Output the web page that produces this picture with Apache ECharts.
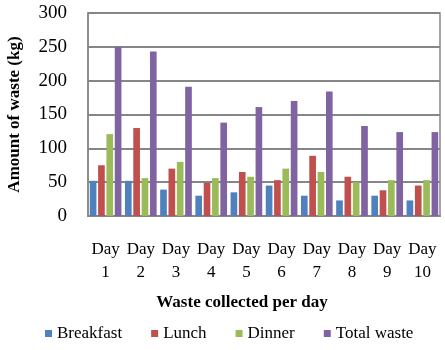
<!DOCTYPE html>
<html>
<head>
<meta charset="utf-8">
<script src="https://cdn.jsdelivr.net/npm/echarts@6/dist/echarts.min.js"></script>
<style>
  html, body { margin: 0; padding: 0; background: #fff; }
  #chart { width: 445px; height: 350px; }
</style>
</head>
<body>
<div id="chart"></div>
<script>
const days = ['Day\n1', 'Day\n2', 'Day\n3', 'Day\n4', 'Day\n5', 'Day\n6', 'Day\n7', 'Day\n8', 'Day\n9', 'Day\n10'];
const breakfast = [52, 52, 39, 30, 35, 45, 30, 23, 30, 23];
const lunch = [75, 130, 70, 49, 65, 53, 89, 58, 38, 45];
const dinner = [121, 56, 80, 56, 58, 70, 65, 50, 53, 53];
const totalWaste = [250, 243, 191, 138, 161, 170, 184, 133, 124, 124];

const serif = '"Liberation Serif", "Times New Roman", serif';
const gridGray = '#868686';

const chart = echarts.init(document.getElementById('chart'));

function bar(name, data, color) {
  return {
    name,
    type: 'bar',
    data,
    barGap: '25%',
    barCategoryGap: '10%',
    itemStyle: { color }
  };
}

chart.setOption({
  animation: false,
  textStyle: { fontFamily: serif, color: '#000' },
  grid: {
    left: 88, right: 5, top: 13, bottom: 134,
    outerBoundsMode: 'none', containLabel: false,
    show: true, borderColor: gridGray, borderWidth: 1.5
  },
  legend: {
    bottom: 3,
    left: 40,
    icon: 'rect',
    itemWidth: 7,
    itemHeight: 7,
    itemGap: 29,
    textStyle: { fontFamily: serif, fontSize: 17, color: '#000' },
    data: ['Breakfast', 'Lunch', 'Dinner', 'Total waste']
  },
  xAxis: {
    type: 'category',
    data: days,
    name: 'Waste collected per day',
    nameLocation: 'middle',
    nameGap: 78,
    nameTextStyle: { fontFamily: serif, fontSize: 17, fontWeight: 'bold', color: '#000', padding: [0, 44, 0, 0] },
    axisLine: { lineStyle: { color: gridGray, width: 2 } },
    axisTick: { show: false },
    axisLabel: { interval: 0, fontFamily: serif, fontSize: 17, lineHeight: 23, color: '#000', margin: 22 }
  },
  yAxis: {
    type: 'value',
    min: 0,
    max: 300,
    interval: 50,
    name: 'Amount of waste (kg)',
    nameLocation: 'middle',
    nameGap: 65,
    nameRotate: 90,
    nameTextStyle: { fontFamily: serif, fontSize: 17, fontWeight: 'bold', color: '#000' },
    axisLine: { show: true, lineStyle: { color: gridGray, width: 1.5 } },
    axisTick: { show: false },
    axisLabel: { fontFamily: serif, fontSize: 19, color: '#000', margin: 21 },
    splitLine: { lineStyle: { color: gridGray, width: 2 } }
  },
  series: [
    bar('Breakfast', breakfast, '#4F81BD'),
    bar('Lunch', lunch, '#C0504D'),
    bar('Dinner', dinner, '#9BBB59'),
    bar('Total waste', totalWaste, '#8064A2')
  ]
});
</script>
</body>
</html>
